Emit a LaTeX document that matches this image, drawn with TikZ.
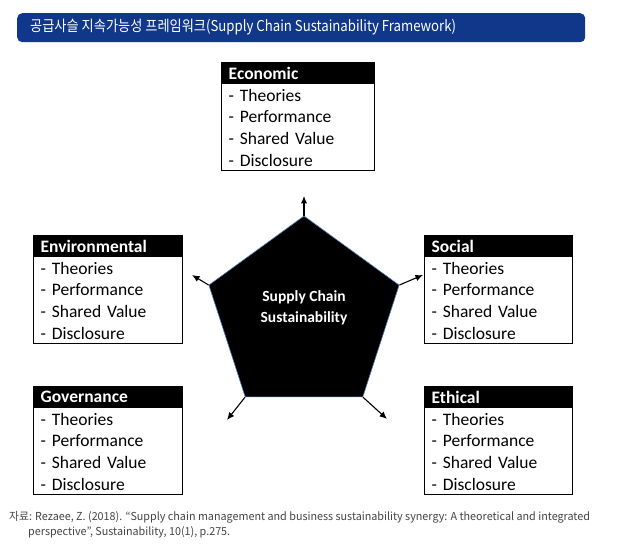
\documentclass[tikz,border=0pt]{standalone}
\usepackage{fontspec}
\setmainfont{Carlito}
\newfontfamily\capfont[FakeStretch=0.98]{Noto Sans CJK KR}
\newfontfamily\titlefont[FakeStretch=0.88]{Noto Sans CJK KR}
\usetikzlibrary{shapes.geometric,arrows.meta,fit}
\definecolor{navy}{RGB}{16,55,138}
\definecolor{pentaedge}{RGB}{79,129,189}
\definecolor{capgray}{RGB}{68,68,68}
\tikzset{
  hdr/.style={fill=black,text=white,font=\fontsize{17.5}{20}\selectfont\bfseries,
    minimum height=22pt,inner xsep=7.5pt,inner ysep=0pt,align=left,anchor=north west},
  rowbox/.style={font=\fontsize{17.5}{20}\selectfont,minimum height=21.2pt,
    inner xsep=7.5pt,inner ysep=0pt,align=left,anchor=north west},
  framebox/.style={draw=black,line width=0.9pt,inner sep=0pt},
  arr/.style={line width=1.1pt,-{Latex[length=7.5pt,width=6.5pt]}},
}
% #1 name, #2 x, #3 y, #4 width, #5 title
\newcommand\catbox[5]{%
  \node[hdr,text width=#4-15pt] (#1) at (#2,#3) {#5};
  \node[rowbox,text width=#4-15pt] (#1-1) at (#1.south west) {- Theories};
  \node[rowbox,text width=#4-15pt] (#1-2) at (#1-1.south west) {- Performance};
  \node[rowbox,text width=#4-15pt] (#1-3) at (#1-2.south west) {- Shared Value};
  \node[rowbox,text width=#4-15pt] (#1-4) at (#1-3.south west) {- Disclosure};
  \node[framebox,fit=(#1)(#1-4)] (#1-frame) {};
}
\begin{document}
\begin{tikzpicture}[x=1pt,y=-1pt]
\useasboundingbox (0,0) rectangle (622,556);
\fill[white] (0,0) rectangle (622,556);
% title bar
\node[fill=navy,rounded corners=5pt,minimum width=568pt,minimum height=29pt,
  anchor=north west,inner sep=0pt] (titlebar) at (17,13) {};
\node[text=white,anchor=west,inner sep=0pt,font=\titlefont\fontsize{15}{18}\selectfont]
  (title) at (30,27.5) {공급사슬 지속가능성 프레임워크(Supply Chain Sustainability Framework)};
% category boxes
\catbox{eco}{221}{62}{153pt}{Economic}
\catbox{env}{33}{235}{149pt}{Environmental}
\catbox{soc}{424}{235}{148pt}{Social}
\catbox{gov}{33}{386}{149pt}{Governance}
\catbox{eth}{424}{386}{148pt}{Ethical}
% pentagon
\node[regular polygon,regular polygon sides=5,minimum size=200pt,inner sep=0pt,
  fill=black,draw=pentaedge,line width=0.6pt] (penta) at (304,316) {};
\node[text=white,font=\fontsize{15.5}{21}\selectfont\bfseries,align=center]
  (pentatext) at (304,308) {Supply Chain\\Sustainability};
% arrow ends
\coordinate (aeco) at (304,196);
\coordinate (aenv) at (192,275);
\coordinate (asoc) at (423,275);
\coordinate (agov) at (227,420);
\coordinate (aeth) at (387,419);
\draw[arr] (penta.corner 1) -- (aeco);
\draw[arr] (penta.corner 2) -- (aenv);
\draw[arr] (penta.corner 5) -- (asoc);
\draw[arr] (penta.corner 3) -- (agov);
\draw[arr] (penta.corner 4) -- (aeth);
% caption
\node[text=capgray,anchor=west,inner sep=0pt,font=\capfont\fontsize{11}{13}\selectfont]
  (cap1) at (9,517.5) {자료: Rezaee, Z. (2018). “Supply chain management and business sustainability synergy: A theoretical and integrated};
\node[text=capgray,anchor=west,inner sep=0pt,font=\capfont\fontsize{11}{13}\selectfont]
  (cap2) at (28,532.5) {perspective”, Sustainability, 10(1), p.275.};
\end{tikzpicture}
\end{document}
